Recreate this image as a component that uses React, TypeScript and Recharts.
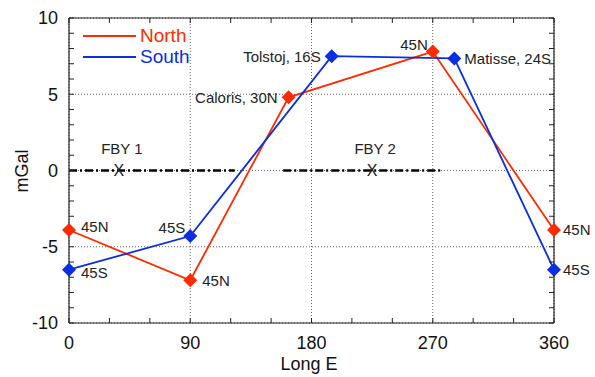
import {
  LineChart,
  Line,
  XAxis,
  YAxis,
  CartesianGrid,
  ReferenceLine,
  ReferenceDot,
} from 'recharts';

// longitude (deg E) and gravity anomaly (mGal)
const northLon = [0, 90, 163, 270, 360];
const northVal = [-3.9, -7.2, 4.8, 7.8, -3.9];
const northLabel = ['45N', '45N', 'Caloris, 30N', '45N', '45N'];

const southLon = [0, 90, 195, 286, 360];
const southVal = [-6.5, -4.3, 7.5, 7.35, -6.5];
const southLabel = ['45S', '45S', 'Tolstoj, 16S', 'Matisse, 24S', '45S'];

// flyby tracks along the zero line
const fbyName = ['FBY 1', 'FBY 2'];
const fbyStart = [0, 159];
const fbyEnd = [123, 277];
const fbyMark = [37, 225];

const xTicks = [0, 90, 180, 270, 360];
const yTicks = [-10, -5, 0, 5, 10];
const xMinor = [0, 30, 60, 90, 120, 150, 180, 210, 240, 270, 300, 330, 360];
const yMinor = [-10, -9, -8, -7, -6, -5, -4, -3, -2, -1, 0, 1, 2, 3, 4, 5, 6, 7, 8, 9, 10];

const RED = '#ff2a00';
const BLUE = '#0a2ee0';
const FONT = '"Liberation Sans", Arial, Helvetica, sans-serif';
const AXIS = '#222';

// label placement per point: [textAnchor, dx, dy]
const northPos: [string, number, number][] = [
  ['start', 12, -3],
  ['start', 12, 0],
  ['end', -11, 0],
  ['end', -5, -7],
  ['start', 9, 0],
];
const southPos: [string, number, number][] = [
  ['start', 12, 3],
  ['end', -5, -8],
  ['end', -11, 0],
  ['start', 10, 0],
  ['start', 9, 0],
];

const northData = northLon.map((lon, i) => ({ lon, val: northVal[i], label: northLabel[i] }));
const southData = southLon.map((lon, i) => ({ lon, val: southVal[i], label: southLabel[i] }));

function makeDot(color: string, pos: [string, number, number][]) {
  return (p: any) => {
    const { cx, cy, index, payload } = p;
    const r = 7;
    const [anchor, dx, dy] = pos[index];
    return (
      <g key={`d-${color}-${index}`}>
        <polygon
          points={`${cx},${cy - r} ${cx + r},${cy} ${cx},${cy + r} ${cx - r},${cy}`}
          fill={color}
        />
        <text
          x={cx + dx}
          y={cy + dy}
          dy="0.36em"
          textAnchor={anchor as any}
          fontSize={15}
          fontFamily={FONT}
          fill="#222"
        >
          {payload.label}
        </text>
      </g>
    );
  };
}

function fbyShape(name: string) {
  return (p: any) => (
    <g>
      <text x={p.cx} y={p.cy} dy="0.36em" textAnchor="middle" fontSize={16} fontFamily={FONT} fill="#222">
        X
      </text>
      <text x={p.cx + 3} y={p.cy - 17} textAnchor="middle" fontSize={15} fontFamily={FONT} fill="#222">
        {name}
      </text>
    </g>
  );
}

export default function App() {
  const W = 595;
  const H = 377;
  const blank = () => <g />;
  return (
    <div style={{ position: 'absolute', left: 0, top: 0, width: W, height: H, background: '#fff', fontFamily: FONT }}>
      <LineChart width={W} height={H} margin={{ top: 18, right: 41, bottom: 14, left: 19 }}>
        <CartesianGrid stroke="#666" strokeDasharray="1 2" strokeWidth={1} />
        {/* minor tick axes, nearest the plot; they also draw the frame */}
        <XAxis
          xAxisId="minB"
          dataKey="lon"
          type="number"
          domain={[0, 360]}
          ticks={xMinor}
          interval={0}
          height={1}
          mirror
          tickSize={5}
          tick={blank}
          axisLine={{ stroke: AXIS, strokeWidth: 1.2 }}
          tickLine={{ stroke: AXIS }}
        />
        <XAxis
          xAxisId="minT"
          dataKey="lon"
          orientation="top"
          type="number"
          domain={[0, 360]}
          ticks={xMinor}
          interval={0}
          height={1}
          mirror
          tickSize={5}
          tick={blank}
          axisLine={{ stroke: AXIS, strokeWidth: 1.2 }}
          tickLine={{ stroke: AXIS }}
        />
        <YAxis
          yAxisId="minL"
          type="number"
          domain={[-10, 10]}
          ticks={yMinor}
          interval={0}
          width={1}
          mirror
          tickSize={5}
          tick={blank}
          axisLine={{ stroke: AXIS, strokeWidth: 1.2 }}
          tickLine={{ stroke: AXIS }}
        />
        <YAxis
          yAxisId="minR"
          orientation="right"
          type="number"
          domain={[-10, 10]}
          ticks={yMinor}
          interval={0}
          width={1}
          mirror
          tickSize={5}
          tick={blank}
          axisLine={{ stroke: AXIS, strokeWidth: 1.2 }}
          tickLine={{ stroke: AXIS }}
        />
        {/* labelled axes */}
        <XAxis
          xAxisId={0}
          dataKey="lon"
          type="number"
          domain={[0, 360]}
          ticks={xTicks}
          interval={0}
          height={40}
          tickSize={0}
          tickMargin={13}
          axisLine={false}
          tickLine={false}
          tick={{ fontSize: 18, fill: '#111', fontFamily: FONT }}
        />
        <YAxis
          yAxisId={0}
          type="number"
          domain={[-10, 10]}
          ticks={yTicks}
          interval={0}
          width={50}
          tickSize={0}
          tickMargin={11}
          axisLine={false}
          tickLine={false}
          tick={{ fontSize: 18, fill: '#111', fontFamily: FONT }}
        />
        {/* invisible series that bind the frame / minor-tick axes */}
        <Line
          data={northData}
          dataKey="val"
          xAxisId="minB"
          yAxisId="minL"
          stroke="none"
          dot={false}
          activeDot={false}
          isAnimationActive={false}
        />
        <Line
          data={southData}
          dataKey="val"
          xAxisId="minT"
          yAxisId="minR"
          stroke="none"
          dot={false}
          activeDot={false}
          isAnimationActive={false}
        />
        {fbyName.map((name, i) => (
          <ReferenceLine
            key={`fl-${i}`}
            segment={[
              { x: fbyStart[i], y: 0 },
              { x: fbyEnd[i], y: 0 },
            ]}
            stroke="#000"
            strokeWidth={2.5}
            strokeDasharray="8 3 2 3"
          />
        ))}
        {fbyName.map((name, i) => (
          <ReferenceDot key={`fd-${i}`} x={fbyMark[i]} y={0} r={0} shape={fbyShape(name)} />
        ))}
        <Line
          data={northData}
          dataKey="val"
          stroke={RED}
          strokeWidth={1.8}
          dot={makeDot(RED, northPos)}
          activeDot={false}
          isAnimationActive={false}
        />
        <Line
          data={southData}
          dataKey="val"
          stroke={BLUE}
          strokeWidth={1.8}
          dot={makeDot(BLUE, southPos)}
          activeDot={false}
          isAnimationActive={false}
        />
      </LineChart>

      {/* legend */}
      <div style={{ position: 'absolute', left: 83, top: 25, lineHeight: '21px', fontSize: 19 }}>
        <div style={{ display: 'flex', alignItems: 'center', color: RED }}>
          <span style={{ display: 'inline-block', width: 53, height: 2, background: RED, marginRight: 4 }} />
          North
        </div>
        <div style={{ display: 'flex', alignItems: 'center', color: BLUE }}>
          <span style={{ display: 'inline-block', width: 53, height: 2, background: BLUE, marginRight: 4 }} />
          South
        </div>
      </div>

      {/* axis titles */}
      <div
        style={{
          position: 'absolute',
          left: 22,
          top: 171,
          transform: 'translate(-50%, -50%) rotate(-90deg)',
          fontSize: 18,
          color: '#111',
          whiteSpace: 'nowrap',
        }}
      >
        mGal
      </div>
      <div
        style={{
          position: 'absolute',
          left: 309,
          top: 364,
          transform: 'translate(-50%, -50%)',
          fontSize: 18,
          color: '#111',
          whiteSpace: 'nowrap',
        }}
      >
        Long E
      </div>
    </div>
  );
}
